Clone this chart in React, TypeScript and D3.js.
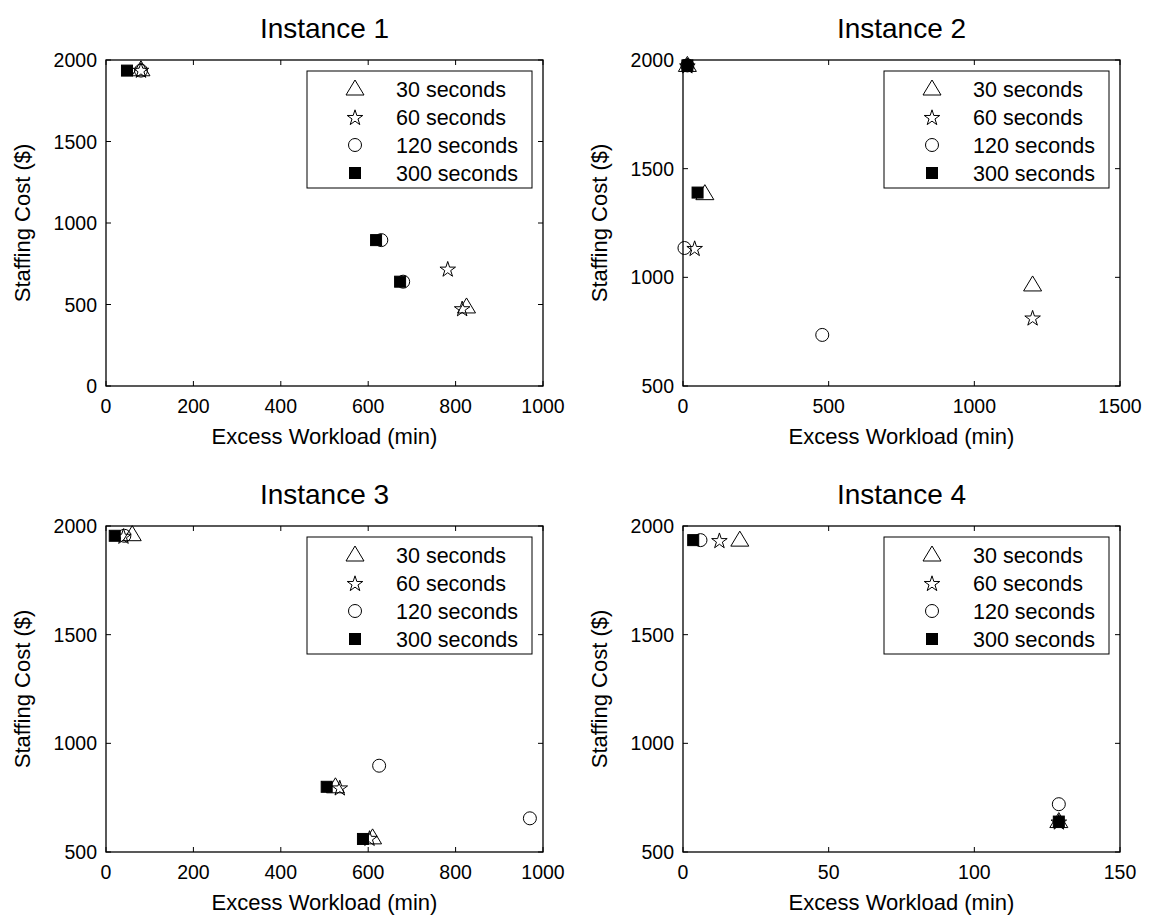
import React from "react";
import * as d3 from "d3";

// marker series, in legend order: 30s, 60s, 120s, 300s
const seriesNames = ["30 seconds", "60 seconds", "120 seconds", "300 seconds"];
const markerTypes = ["triangle", "star", "circle", "square"];

// Instance 1
const inst1_30 = [[80, 1940], [825, 485]];
const inst1_60 = [[80, 1940], [782, 720], [815, 477]];
const inst1_120 = [[80, 1935], [630, 895], [680, 640]];
const inst1_300 = [[48, 1935], [618, 895], [673, 640]];

// Instance 2
const inst2_30 = [[15, 1975], [75, 1385], [1200, 965]];
const inst2_60 = [[15, 1975], [40, 1135], [1200, 815]];
const inst2_120 = [[15, 1975], [5, 1135], [478, 735]];
const inst2_300 = [[15, 1975], [50, 1390]];

// Instance 3
const inst3_30 = [[60, 1960], [525, 800], [610, 565]];
const inst3_60 = [[40, 1955], [535, 797], [603, 565]];
const inst3_120 = [[42, 1955], [625, 897], [970, 655]];
const inst3_300 = [[20, 1955], [505, 800], [588, 560]];

// Instance 4
const inst4_30 = [[19.5, 1935], [129, 640]];
const inst4_60 = [[12.5, 1935], [129, 640]];
const inst4_120 = [[6, 1935], [129, 720]];
const inst4_300 = [[3.5, 1935], [129, 640]];

const titles = ["Instance 1", "Instance 2", "Instance 3", "Instance 4"];
const xDomains = [[0, 1000], [0, 1500], [0, 1000], [0, 150]];
const yDomains = [[0, 2000], [500, 2000], [500, 2000], [500, 2000]];
const xTickVals = [
  [0, 200, 400, 600, 800, 1000],
  [0, 500, 1000, 1500],
  [0, 200, 400, 600, 800, 1000],
  [0, 50, 100, 150],
];
const yTickVals = [
  [0, 500, 1000, 1500, 2000],
  [500, 1000, 1500, 2000],
  [500, 1000, 1500, 2000],
  [500, 1000, 1500, 2000],
];
const panelData = [
  [inst1_30, inst1_60, inst1_120, inst1_300],
  [inst2_30, inst2_60, inst2_120, inst2_300],
  [inst3_30, inst3_60, inst3_120, inst3_300],
  [inst4_30, inst4_60, inst4_120, inst4_300],
];

const font = "'Liberation Sans', Arial, Helvetica, sans-serif";

function Marker({ type, x, y }) {
  if (type === "triangle") {
    const h = 15, w = 18;
    const pts = [[x, y - h * 0.6], [x - w / 2, y + h * 0.4], [x + w / 2, y + h * 0.4]];
    return <polygon points={pts.map((p) => p.join(",")).join(" ")} fill="none" stroke="black" strokeWidth={1} />;
  }
  if (type === "star") {
    const star = d3.symbol().type(d3.symbolStar).size(75)();
    return <path d={star} transform={`translate(${x},${y + 1})`} fill="none" stroke="black" strokeWidth={1} />;
  }
  if (type === "circle") {
    return <circle cx={x} cy={y} r={6.5} fill="none" stroke="black" strokeWidth={1} />;
  }
  return <rect x={x - 5.5} y={y - 5.5} width={11} height={11} fill="black" stroke="black" strokeWidth={1} />;
}

function Panel({ idx, left, top }) {
  const w = 437;
  const h = 326;
  const xScale = d3.scaleLinear().domain(xDomains[idx]).range([0, w]);
  const yScale = d3.scaleLinear().domain(yDomains[idx]).range([h, 0]);
  const tickLen = 5;

  return (
    <g transform={`translate(${left},${top})`} fontFamily={font}>
      <text x={w / 2} y={-22} textAnchor="middle" fontSize={28}>{titles[idx]}</text>

      {/* data */}
      {panelData[idx].map((series, s) =>
        series.map((d, i) => (
          <Marker key={`${s}-${i}`} type={markerTypes[s]} x={xScale(d[0])} y={yScale(d[1])} />
        ))
      )}

      {/* box and ticks */}
      <rect x={0} y={0} width={w} height={h} fill="none" stroke="black" strokeWidth={1.3} />
      {xTickVals[idx].map((t) => (
        <g key={t}>
          <line x1={xScale(t)} x2={xScale(t)} y1={h} y2={h - tickLen} stroke="black" />
          <line x1={xScale(t)} x2={xScale(t)} y1={0} y2={tickLen} stroke="black" />
          <text x={xScale(t)} y={h + 27} textAnchor="middle" fontSize={19.5}>{t}</text>
        </g>
      ))}
      {yTickVals[idx].map((t) => (
        <g key={t}>
          <line x1={0} x2={tickLen} y1={yScale(t)} y2={yScale(t)} stroke="black" />
          <line x1={w} x2={w - tickLen} y1={yScale(t)} y2={yScale(t)} stroke="black" />
          <text x={-9} y={yScale(t) + 7} textAnchor="end" fontSize={19.5}>{t}</text>
        </g>
      ))}

      <text x={w / 2} y={h + 58} textAnchor="middle" fontSize={22}>Excess Workload (min)</text>
      <text transform={`translate(${-76},${h / 2}) rotate(-90)`} textAnchor="middle" fontSize={22}>Staffing Cost ($)</text>

      {/* legend */}
      <g transform={`translate(${w - 236},${11})`}>
        <rect x={0} y={0} width={225} height={117} fill="white" stroke="black" strokeWidth={1} />
        {seriesNames.map((name, s) => (
          <g key={name}>
            <Marker type={markerTypes[s]} x={48} y={18 + s * 28} />
            <text x={89} y={18 + s * 28 + 7.5} fontSize={21.5}>{name}</text>
          </g>
        ))}
      </g>
    </g>
  );
}

export default function App() {
  return (
    <svg width={1154} height={917} style={{ position: "absolute", left: 0, top: 0, background: "white" }}>
      <rect width={1154} height={917} fill="white" />
      <Panel idx={0} left={106} top={60} />
      <Panel idx={1} left={683} top={60} />
      <Panel idx={2} left={106} top={526} />
      <Panel idx={3} left={683} top={526} />
    </svg>
  );
}
